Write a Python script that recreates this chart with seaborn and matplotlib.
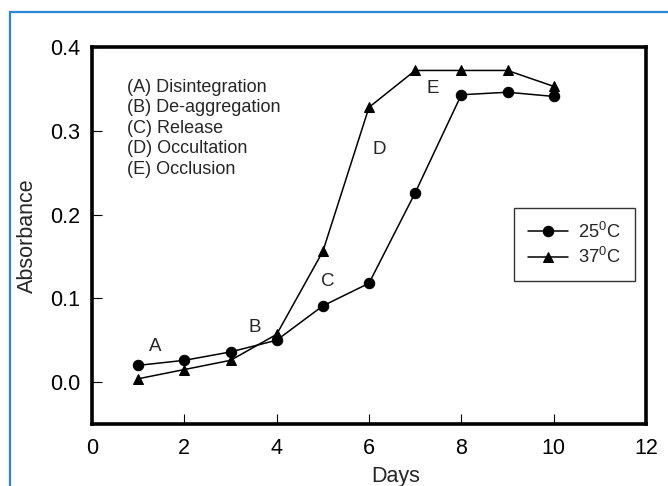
import numpy as np
import pandas as pd
import matplotlib
matplotlib.use('Agg')
import matplotlib.pyplot as plt
import seaborn as sns
from matplotlib.patches import Rectangle

days = [1, 2, 3, 4, 5, 6, 7, 8, 9, 10]
abs_25 = [0.020, 0.026, 0.036, 0.050, 0.091, 0.118, 0.226, 0.343, 0.346, 0.341]
abs_37 = [0.004, 0.015, 0.026, 0.057, 0.156, 0.328, 0.372, 0.372, 0.372, 0.353]
series_labels = ['25$^0$C', '37$^0$C']

stage_letters = ['A', 'B', 'C', 'D', 'E']
stage_x = [1.36, 3.53, 5.11, 6.22, 7.39]
stage_y = [0.043, 0.065, 0.120, 0.278, 0.350]
stage_names = ['(A) Disintegration', '(B) De-aggregation', '(C) Release',
               '(D) Occultation', '(E) Occlusion']

x_ticks = [0, 2, 4, 6, 8, 10, 12]
y_ticks = [0.0, 0.1, 0.2, 0.3, 0.4]

sns.set_style('ticks')
plt.rcParams['font.family'] = ['Liberation Sans', 'DejaVu Sans']
plt.rcParams['mathtext.fontset'] = 'custom'
plt.rcParams['mathtext.rm'] = 'Liberation Sans'
plt.rcParams['mathtext.it'] = 'Liberation Sans'

fig = plt.figure(figsize=(6.68, 4.86), dpi=100)
ax = fig.add_axes([92 / 668, 1 - 424 / 486, (646 - 92) / 668, (424 - 47) / 486])

# blue frame round the figure (only left and top visible)
fig.patches.append(Rectangle((10 / 668, -0.1), 1.2, 1 - 12.5 / 486 + 0.1,
                             transform=fig.transFigure, fill=False,
                             edgecolor='#2a86d8', linewidth=1.6))

sns.lineplot(x=days, y=abs_25, ax=ax, color='black', marker='o', markersize=7.5,
             markeredgecolor='black', linewidth=1.1, label=series_labels[0])
sns.lineplot(x=days, y=abs_37, ax=ax, color='black', marker='^', markersize=7,
             markeredgecolor='black', linewidth=1.1, label=series_labels[1])

for lt, xx, yy in zip(stage_letters, stage_x, stage_y):
    ax.text(xx, yy, lt, ha='center', va='center', fontsize=13.5)

ax.text(0.76, 0.303, '\n'.join(stage_names), ha='left', va='center',
        fontsize=13, linespacing=1.27)

ax.set_xlim(0, 12)
ax.set_ylim(-0.05, 0.4)
ax.set_xticks(x_ticks)
ax.set_yticks(y_ticks)
ax.set_xticklabels([str(t) for t in x_ticks])
ax.set_yticklabels(['{:.1f}'.format(t) for t in y_ticks])
ax.tick_params(direction='in', length=7, width=0.8, labelsize=15.5, pad=8.5, colors='black')
ax.tick_params(axis='x', pad=10)
for s in ax.spines.values():
    s.set_linewidth(2.6)
    s.set_color('black')
    s.set_visible(True)

ax.set_xlabel('Days', fontsize=15.5)
ax.set_ylabel('Absorbance', fontsize=15.5)
ax.xaxis.set_label_coords((396 - 92) / (646 - 92), -(465.5 - 424) / (424 - 47), transform=ax.transAxes)
ax.yaxis.set_label_coords(-(92 - 38) / (646 - 92), 0.5, transform=ax.transAxes)

leg = ax.legend(loc='upper left', bbox_to_anchor=((514 - 92) / (646 - 92), 1 - (208 - 47) / (424 - 47)),
                fontsize=13.2, frameon=True, fancybox=False, edgecolor='black',
                handlelength=2.2, handletextpad=0.55, borderpad=0.75, labelspacing=0.3,
                borderaxespad=0)
leg.get_frame().set_linewidth(1.0)

fig.savefig('out.png', dpi=100, facecolor='white')
